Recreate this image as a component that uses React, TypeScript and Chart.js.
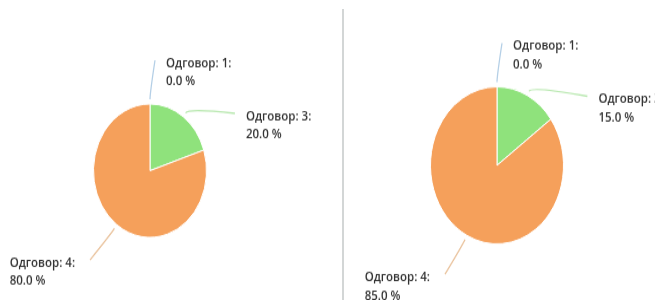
import React, { useEffect, useRef } from "react";
import { Chart, ArcElement, PieController } from "chart.js";

Chart.register(ArcElement, PieController);

const categories = ["Одговор: 1", "Одговор: 3", "Одговор: 4"];
const leftValues = [0, 20, 80];
const rightValues = [0, 15, 85];
const sliceColors = ["#a9c8e4", "#8fe27c", "#f5a05b"];
const leaderColors = ["#b4cfe6", "#b9e8b0", "#e9c29c"];

const SY = 1.18; // vertical stretch of the reference image

const outLabels = {
  id: "outLabels",
  afterDatasetsDraw(chart: any, _args: any, opts: any) {
    const meta = chart.getDatasetMeta(0);
    const ctx = chart.ctx as CanvasRenderingContext2D;
    const data = chart.data.datasets[0].data as number[];
    const labels = chart.data.labels as string[];
    const total = data.reduce((a, b) => a + b, 0);
    const items = meta.data.map((arc: any, i: number) => {
      const p = arc.getProps(["x", "y", "startAngle", "endAngle", "outerRadius"], true);
      const mid = (p.startAngle + p.endAngle) / 2;
      const R = p.outerRadius + opts.labelGap;
      const right = Math.cos(mid) >= -1e-6;
      return { i, cx: p.x, cy: p.y, mid, R, r: p.outerRadius, ey: p.y + R * Math.sin(mid), right };
    });
    for (const side of [true, false]) {
      const list = items.filter((it: any) => it.right === side).sort((a: any, b: any) => a.ey - b.ey);
      for (let k = 1; k < list.length; k++) {
        if (list[k].ey < list[k - 1].ey + opts.minSpacing) list[k].ey = list[k - 1].ey + opts.minSpacing;
      }
    }
    ctx.save();
    ctx.font = "600 11.5px 'Open Sans'";
    ctx.textBaseline = "middle";
    ctx.textAlign = "left";
    for (const it of items) {
      const dir = it.right ? 1 : -1;
      const dy = it.ey - it.cy;
      const dx = Math.sqrt(Math.max(it.R * it.R - dy * dy, 0)) * dir;
      const ex = it.cx + dx + dir * opts.shift;
      const ey = it.ey;
      const c = Math.cos(it.mid), s = Math.sin(it.mid);
      const sx = it.cx + (it.r + opts.startGap) * c;
      const sy = it.cy + (it.r + opts.startGap) * s;
      const qx = it.cx + (it.r + opts.ctrlGap) * c;
      const qy = it.cy + (it.r + opts.ctrlGap) * s;
      ctx.beginPath();
      ctx.moveTo(sx, sy);
      ctx.quadraticCurveTo(qx, qy, ex, ey);
      ctx.strokeStyle = leaderColors[it.i];
      ctx.lineWidth = 1.3;
      ctx.stroke();
      const pct = total ? (data[it.i] / total) * 100 : 0;
      const line1 = labels[it.i] + ":";
      const line2 = pct.toFixed(1) + " %";
      const w = Math.max(ctx.measureText(line1).width, ctx.measureText(line2).width);
      const tx = it.right ? ex + opts.textGap : ex - opts.textGap - 4 - w;
      ctx.fillStyle = "#333333";
      ctx.fillText(line1, tx, ey + 2.5);
      ctx.fillText(line2, tx, ey + 18);
    }
    ctx.restore();
  },
};

type PieProps = {
  values: number[];
  width: number;
  height: number;
  padding: { left: number; right: number; top: number; bottom: number };
  left: number;
};

function Pie({ values, width, height, padding, left }: PieProps) {
  const ref = useRef<HTMLCanvasElement | null>(null);
  useEffect(() => {
    if (!ref.current) return;
    const chart = new Chart(ref.current, {
      type: "pie",
      data: {
        labels: categories,
        datasets: [
          {
            data: values,
            backgroundColor: sliceColors,
            borderColor: "#ffffff",
            borderWidth: 1,
          },
        ],
      },
      options: {
        responsive: false,
        animation: false,
        layout: { padding },
        plugins: {
          legend: { display: false },
          tooltip: { enabled: false },
          outLabels: { labelGap: 37, minSpacing: 45, shift: 5, startGap: 4, ctrlGap: 9, textGap: 11 },
        } as any,
      },
      plugins: [outLabels as any],
    });
    return () => chart.destroy();
  }, []);
  return (
    <canvas
      ref={ref}
      width={width}
      height={height}
      style={{
        position: "absolute",
        left,
        top: 0,
        width: width + "px",
        height: Math.round(height * SY) + "px",
        display: "block",
      }}
    />
  );
}

export default function App() {
  useEffect(() => {
    document.body.style.margin = "0";
  }, []);
  return (
    <div style={{ position: "fixed", left: 0, top: 0, width: 655, height: 300, background: "#fff", overflow: "hidden" }}>
      <Pie values={leftValues} width={342} height={254} left={0} padding={{ left: 93, right: 135, top: 87, bottom: 52 }} />
      <div style={{ position: "absolute", left: 342, top: 9, width: 2, height: 291, background: "#d3d6d6" }} />
      <Pie values={rightValues} width={310} height={254} left={345} padding={{ left: 85, right: 91, top: 73, bottom: 47 }} />
    </div>
  );
}
